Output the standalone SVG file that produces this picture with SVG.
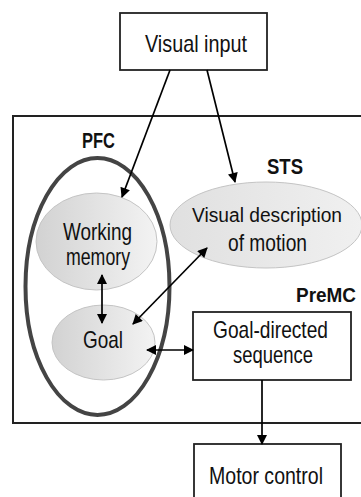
<svg xmlns="http://www.w3.org/2000/svg" width="361" height="497" viewBox="0 0 361 497">
<defs>
<linearGradient id="g" x1="0" y1="0" x2="1" y2="0">
<stop offset="0" stop-color="#d2d2d2"/>
<stop offset="1" stop-color="#f3f3f3"/>
</linearGradient>
<linearGradient id="g2" x1="0" y1="0" x2="1" y2="0">
<stop offset="0" stop-color="#e0e0e0"/>
<stop offset="1" stop-color="#f0f0f0"/>
</linearGradient>
<marker id="ah" viewBox="0 0 10 10" refX="9" refY="5" markerWidth="11" markerHeight="10" markerUnits="userSpaceOnUse" orient="auto-start-reverse">
<path d="M0,0 L10,5 L0,10 Z" fill="#000"/>
</marker>
</defs>
<style>
text{font-family:"Liberation Sans",Arial,sans-serif;fill:#111;}
.t{font-size:24px;text-anchor:middle;}
.b{font-size:22px;font-weight:bold;}
.box{fill:#fff;stroke:#222;stroke-width:1.8;}
.ell{fill:url(#g);stroke:#c4c4c4;stroke-width:1;}
.c{fill:none;stroke:#000;stroke-width:1.7;}
</style>
<rect width="361" height="497" fill="#fff"/>
<g id="outer">
<rect x="13" y="116" width="360" height="307" fill="none" stroke="#222" stroke-width="2"/>
</g>
<g id="pfc">
<ellipse cx="97.5" cy="286.5" rx="72" ry="128.5" fill="none" stroke="#444" stroke-width="4"/>
<text class="b" x="82" y="148" textLength="33" lengthAdjust="spacingAndGlyphs">PFC</text>
</g>
<g id="visual-input">
<rect class="box" x="120" y="13" width="147" height="57"/>
<text class="t" x="196" y="52" textLength="102" lengthAdjust="spacingAndGlyphs">Visual input</text>
</g>
<g id="working-memory">
<ellipse class="ell" cx="96.5" cy="241.5" rx="60.5" ry="48.5"/>
<text class="t" x="97.5" y="240" textLength="69" lengthAdjust="spacingAndGlyphs">Working</text>
<text class="t" x="98" y="265" textLength="64" lengthAdjust="spacingAndGlyphs">memory</text>
</g>
<g id="sts">
<ellipse cx="266" cy="225" rx="96" ry="43" fill="url(#g2)" stroke="#c4c4c4" stroke-width="1"/>
<text class="b" x="267" y="174" textLength="36" lengthAdjust="spacingAndGlyphs">STS</text>
<text class="t" x="267" y="222" style="font-size:20px" textLength="150" lengthAdjust="spacingAndGlyphs">Visual description</text>
<text class="t" x="267.5" y="251" textLength="79" lengthAdjust="spacingAndGlyphs">of motion</text>
</g>
<g id="goal">
<ellipse class="ell" cx="103.5" cy="342.5" rx="51.5" ry="37.5"/>
<text class="t" x="103" y="348" textLength="40" lengthAdjust="spacingAndGlyphs">Goal</text>
</g>
<g id="premc">
<text class="b" x="356" y="302" text-anchor="end" style="font-size:20px" textLength="60" lengthAdjust="spacingAndGlyphs">PreMC</text>
<rect class="box" x="193" y="312" width="158" height="68"/>
<text class="t" x="270.5" y="338" textLength="115" lengthAdjust="spacingAndGlyphs">Goal-directed</text>
<text class="t" x="273" y="363" textLength="80" lengthAdjust="spacingAndGlyphs">sequence</text>
</g>
<g id="motor-control">
<rect class="box" x="194" y="444" width="147" height="70"/>
<text class="t" x="266" y="484" textLength="114" lengthAdjust="spacingAndGlyphs">Motor control</text>
</g>
<g id="connectors">
<line class="c" x1="170" y1="70" x2="122" y2="197" marker-end="url(#ah)"/>
<line class="c" x1="207" y1="70" x2="235" y2="182" marker-end="url(#ah)"/>
<line class="c" x1="102" y1="275" x2="102" y2="323" marker-start="url(#ah)" marker-end="url(#ah)"/>
<line class="c" x1="133" y1="324" x2="207" y2="248" marker-start="url(#ah)" marker-end="url(#ah)"/>
<line class="c" x1="147" y1="350" x2="193" y2="350" marker-start="url(#ah)" marker-end="url(#ah)"/>
<line class="c" x1="262" y1="380" x2="262" y2="444" marker-end="url(#ah)"/>
</g>
</svg>
